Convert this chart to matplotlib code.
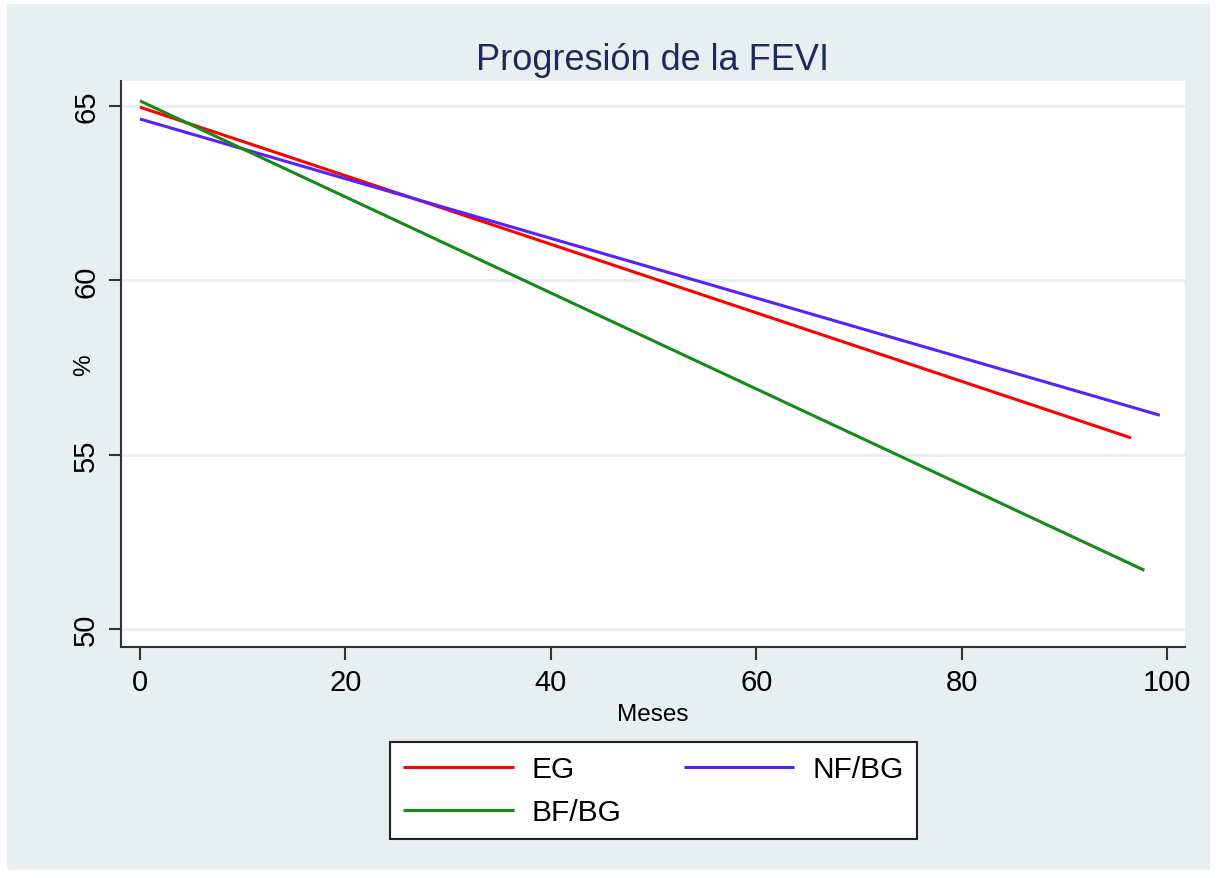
import matplotlib.pyplot as plt
from matplotlib.patches import Rectangle

plt.rcParams['font.family'] = ['Liberation Sans', 'DejaVu Sans']

# fitted lines: start and end of each series (months, %)
series = ["EG", "NF/BG", "BF/BG"]
x_start = [0, 0, 0]
x_end = [96.5, 99.3, 97.8]
y_start = [64.97, 64.63, 65.15]
y_end = [55.48, 56.13, 51.68]
colors = ["#ff0000", "#5522ff", "#158a15"]

bg = "#e8eff1"
fig = plt.figure(figsize=(12.17, 8.79), dpi=100, facecolor="white")
fig.patches.append(Rectangle((0.006, 0.009), 0.988, 0.985, transform=fig.transFigure,
                             facecolor=bg, edgecolor="none", zorder=-10))
ax = fig.add_axes([0.0994, 0.2628, 0.8743, 0.6439])
ax.set_facecolor("white")

for name, x0, x1, y0, y1, c in zip(series, x_start, x_end, y_start, y_end, colors):
    ax.plot([x0, x1], [y0, y1], color=c, lw=2.2, label=name, solid_capstyle="butt")

ax.set_xlim(-1.85, 101.75)
ax.set_ylim(49.48, 65.72)
ax.set_xticks([0, 20, 40, 60, 80, 100])
ax.set_yticks([50, 55, 60, 65])
ax.grid(axis="y", color="#e6eff1", lw=2)
ax.set_axisbelow(True)
for s in ["top", "right"]:
    ax.spines[s].set_visible(False)
for s in ["left", "bottom"]:
    ax.spines[s].set_color("#333333")
    ax.spines[s].set_linewidth(1.5)
ax.tick_params(axis="both", direction="out", length=9, width=1.5, color="#333333", labelsize=21, pad=6)
for lab in ax.get_yticklabels():
    lab.set_rotation(90)
    lab.set_va("center")

ax.set_title("Progresión de la FEVI", fontsize=26, color="#1d2b5a", pad=9)
ax.set_xlabel("Meses", fontsize=17.5, labelpad=5)
ax.set_ylabel("%", fontsize=17.5)
ax.yaxis.set_label_coords(-0.024, 0.5)

handles, labels = ax.get_legend_handles_labels()
order = [0, 2, 1]
leg = fig.legend([handles[i] for i in order], [labels[i] for i in order], ncol=2,
                 loc="center", bbox_to_anchor=(390 / 1217, 0.0995, 527 / 1217, 0), mode="expand",
                 fontsize=21.5, frameon=True, fancybox=False, edgecolor="#222222",
                 facecolor="white", framealpha=1, handlelength=3.7, handletextpad=0.6,
                 columnspacing=1.65, borderpad=0.45, labelspacing=0.5, borderaxespad=0)
leg.get_frame().set_linewidth(1.5)

fig.savefig("out.png", dpi=100, facecolor=fig.get_facecolor())
